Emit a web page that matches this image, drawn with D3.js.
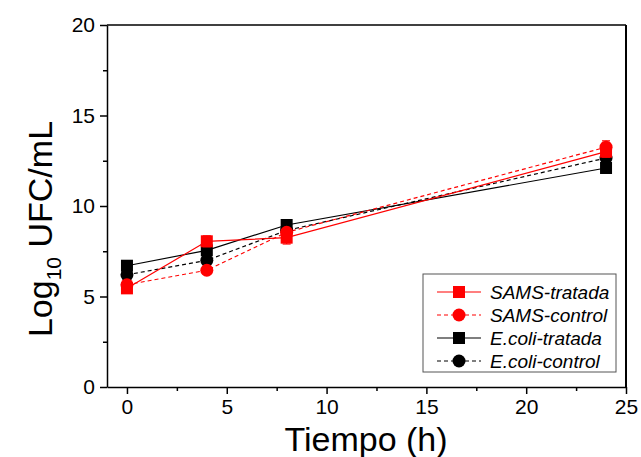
<!DOCTYPE html>
<meta charset="utf-8">
<style>
body { margin: 0; background: #fff; }
svg text { font-family: "Liberation Sans", Arial, sans-serif; }
.axis path, .axis line { stroke: #000; stroke-width: 1.5px; }
.axis text { font-size: 21px; fill: #000; }
</style>
<svg width="641" height="457"></svg>
<script src="https://d3js.org/d3.v7.min.js"></script>
<script>
// data
var times = [0, 4, 8, 24];
var seriesNames = ["SAMS-tratada", "SAMS-control", "E.coli-tratada", "E.coli-control"];
var samsTratada = [5.45, 8.05, 8.25, 13.0];
var samsTratadaErr = [0.2, 0.3, 0.35, 0.3];
var samsControl = [5.65, 6.45, 8.55, 13.25];
var samsControlErr = [0.15, 0.15, 0.2, 0.35];
var ecoliTratada = [6.7, 7.55, 8.95, 12.1];
var ecoliTratadaErr = [0.15, 0.15, 0.15, 0.15];
var ecoliControl = [6.2, 7.0, 8.65, 12.65];
var ecoliControlErr = [0.15, 0.15, 0.15, 0.2];
var xTicks = [0, 5, 10, 15, 20, 25];
var yTicks = [0, 5, 10, 15, 20];

var series = [
  {name: seriesNames[0], vals: samsTratada, err: samsTratadaErr, color: "#ff0000", dash: null, shape: "square"},
  {name: seriesNames[1], vals: samsControl, err: samsControlErr, color: "#ff0000", dash: "4,3", shape: "circle"},
  {name: seriesNames[2], vals: ecoliTratada, err: ecoliTratadaErr, color: "#000000", dash: null, shape: "square"},
  {name: seriesNames[3], vals: ecoliControl, err: ecoliControlErr, color: "#000000", dash: "4,3", shape: "circle"}
];

var svg = d3.select("svg"),
    margin = {top: 25, right: 15, bottom: 70, left: 107},
    width = 626 - margin.left,
    height = 387 - margin.top;

var x = d3.scaleLinear().domain([-1, 25]).range([0, width]),
    y = d3.scaleLinear().domain([0, 20]).range([height, 0]);

var g = svg.append("g")
    .attr("transform", "translate(" + margin.left + "," + margin.top + ")");

// minor ticks
g.append("g")
    .attr("class", "axis")
    .attr("transform", "translate(0," + height + ")")
    .call(d3.axisBottom(x).tickValues(d3.range(0, 25, 2.5).filter(function(d) { return d % 5 != 0; })).tickSize(4).tickFormat(""))
    .select(".domain").remove();
g.append("g")
    .attr("class", "axis")
    .call(d3.axisLeft(y).tickValues([2.5, 7.5, 12.5, 17.5]).tickSize(4).tickFormat(""))
    .select(".domain").remove();

g.append("g")
    .attr("class", "axis")
    .attr("transform", "translate(0," + height + ")")
    .call(d3.axisBottom(x).tickValues(xTicks).tickSize(7).tickSizeOuter(0).tickPadding(5));

g.append("g")
    .attr("class", "axis")
    .call(d3.axisLeft(y).tickValues(yTicks).tickSize(7).tickSizeOuter(0).tickPadding(5));

// top and right frame
g.append("line").attr("x1", 0).attr("x2", width).attr("y1", 0).attr("y2", 0)
    .attr("stroke", "#000").attr("stroke-width", 1.5);
g.append("line").attr("x1", width).attr("x2", width).attr("y1", 0).attr("y2", height)
    .attr("stroke", "#000").attr("stroke-width", 2);

var line = d3.line()
    .x(function(d, i) { return x(times[i]); })
    .y(function(d) { return y(d); });

function drawMarker(sel, shape, color, cx, cy) {
  if (shape == "square") {
    sel.append("rect")
      .attr("x", cx - 6).attr("y", cy - 6)
      .attr("width", 12).attr("height", 12)
      .attr("fill", color);
  } else {
    sel.append("circle")
      .attr("cx", cx).attr("cy", cy).attr("r", 6.5)
      .attr("fill", color);
  }
}

var order = [3, 2, 1, 0];
order.forEach(function(k) {
  var s = series[k];
  g.append("path")
    .datum(s.vals)
    .attr("fill", "none")
    .attr("stroke", s.color)
    .attr("stroke-width", 1.2)
    .attr("stroke-dasharray", s.dash)
    .attr("d", line);
});

order.forEach(function(k) {
  var s = series[k];
  var grp = g.append("g");
  s.vals.forEach(function(v, i) {
    var cx = x(times[i]);
    grp.append("line")
      .attr("x1", cx).attr("x2", cx)
      .attr("y1", y(v - s.err[i])).attr("y2", y(v + s.err[i]))
      .attr("stroke", s.color).attr("stroke-width", 1.2);
    [v - s.err[i], v + s.err[i]].forEach(function(e) {
      grp.append("line")
        .attr("x1", cx - 4).attr("x2", cx + 4)
        .attr("y1", y(e)).attr("y2", y(e))
        .attr("stroke", s.color).attr("stroke-width", 1.2);
    });
    drawMarker(grp, s.shape, s.color, cx, y(v));
  });
});

// axis titles
svg.append("text")
    .attr("x", 366).attr("y", 451)
    .attr("text-anchor", "middle")
    .style("font-size", "34px")
    .text("Tiempo (h)");

var yt = svg.append("text")
    .attr("transform", "translate(52,229) rotate(-90)")
    .attr("text-anchor", "middle")
    .style("font-size", "34px");
yt.append("tspan").text("Log");
yt.append("tspan").attr("dy", 9).style("font-size", "21px").text("10");
yt.append("tspan").attr("dy", -9).text(" UFC/mL");

// legend
var leg = svg.append("g").attr("transform", "translate(423,274)");
leg.append("rect")
    .attr("width", 193).attr("height", 98)
    .attr("fill", "#fff").attr("stroke", "#555").attr("stroke-width", 1);
series.forEach(function(s, i) {
  var ly = 18 + i * 23;
  leg.append("line")
    .attr("x1", 14).attr("x2", 58).attr("y1", ly).attr("y2", ly)
    .attr("stroke", s.color).attr("stroke-width", 1.2)
    .attr("stroke-dasharray", s.dash);
  drawMarker(leg, s.shape, s.color, 36, ly);
  leg.append("text")
    .attr("x", 67).attr("y", ly + 7)
    .style("font-size", "19px")
    .style("font-style", "italic")
    .text(s.name);
});
</script>
